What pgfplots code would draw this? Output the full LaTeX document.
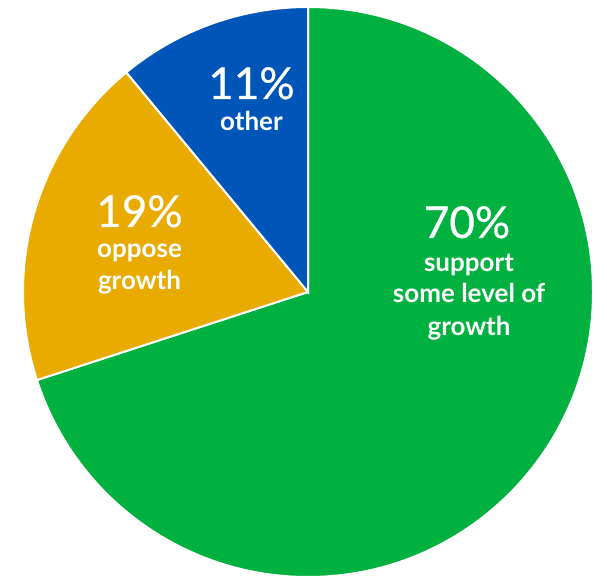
\documentclass[border=0pt]{standalone}
\usepackage{pgfplots}
\pgfplotsset{compat=1.18}
\usepackage{fontspec}
\setmainfont{Lato}
\newfontfamily\pctfont[FakeBold=0.6]{Lato}

\definecolor{pieGreen}{HTML}{00B140}
\definecolor{pieOrange}{HTML}{EAAB00}
\definecolor{pieBlue}{HTML}{0055B8}

% shares in percent, clockwise from 12 o'clock
\def\support{70}
\def\oppose{19}
\def\other{11}

\begin{document}
\begin{tikzpicture}
\begin{axis}[
    hide axis,
    scale only axis,
    width=607pt, height=577pt,
    xmin=0, xmax=607, ymin=0, ymax=577,
    clip=true,
]
\pgfmathsetmacro{\aA}{90}
\pgfmathsetmacro{\aB}{\aA-3.6*\support}
\pgfmathsetmacro{\aC}{\aB-3.6*\oppose}
\pgfmathsetmacro{\aD}{\aC-3.6*\other}

\filldraw[fill=pieGreen, draw=white, line width=2pt]
  (axis cs:308,285) -- ++(\aA:285pt) arc[start angle=\aA, end angle=\aB, radius=285pt] -- cycle;
\filldraw[fill=pieOrange, draw=white, line width=2pt]
  (axis cs:308,285) -- ++(\aB:285pt) arc[start angle=\aB, end angle=\aC, radius=285pt] -- cycle;
\filldraw[fill=pieBlue, draw=white, line width=2pt]
  (axis cs:308,285) -- ++(\aC:285pt) arc[start angle=\aC, end angle=\aD, radius=285pt] -- cycle;

\begin{scope}[every node/.style={text=white, anchor=base, inner sep=0pt}]
\node[font=\fontsize{44}{44}\pctfont] at (axis cs:467,339) {70\%};
\node[font=\fontsize{26}{26}\selectfont\bfseries] at (axis cs:469,305) {support};
\node[font=\fontsize{26}{26}\selectfont\bfseries] at (axis cs:469,274) {some level of};
\node[font=\fontsize{26}{26}\selectfont\bfseries] at (axis cs:469,241) {growth};

\node[font=\fontsize{44}{44}\pctfont] at (axis cs:139.5,350) {19\%};
\node[font=\fontsize{26}{26}\selectfont\bfseries] at (axis cs:139.5,319) {oppose};
\node[font=\fontsize{26}{26}\selectfont\bfseries] at (axis cs:139.5,287) {growth};

\node[font=\fontsize{44}{44}\pctfont] at (axis cs:251.5,478) {11\%};
\node[font=\fontsize{26}{26}\selectfont\bfseries] at (axis cs:251.5,446) {other};
\end{scope}
\end{axis}
\pgfresetboundingbox
\useasboundingbox (current axis.south west) rectangle (current axis.north east);
\end{tikzpicture}
\end{document}
